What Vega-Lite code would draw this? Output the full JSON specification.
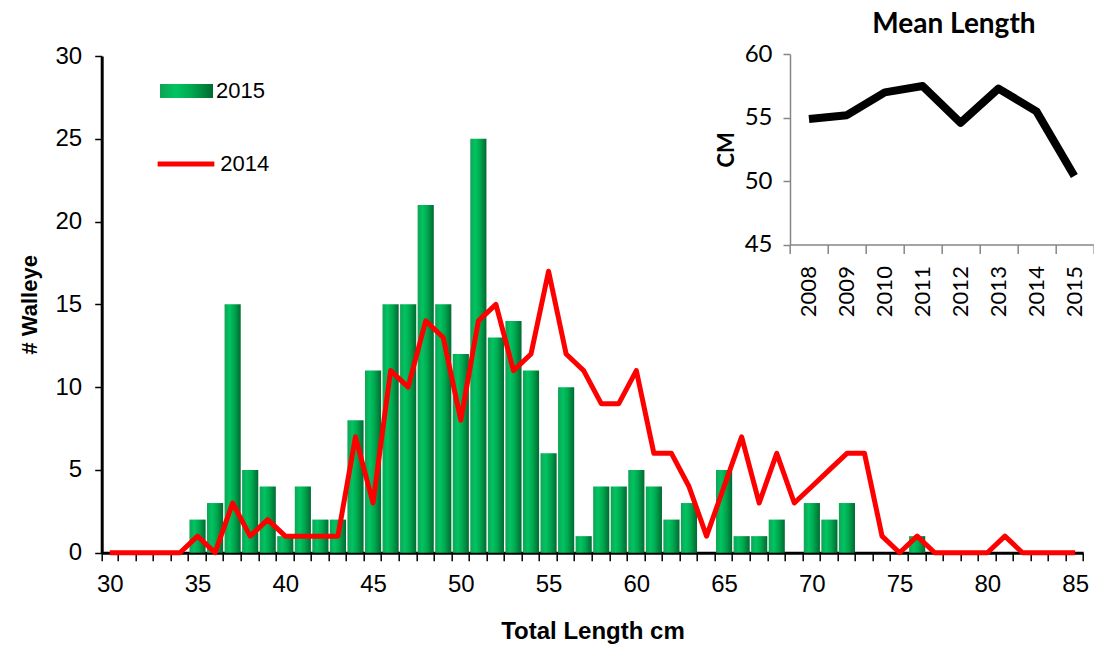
{
  "$schema": "https://vega.github.io/schema/vega-lite/v6.json",
  "autosize": "none",
  "width": 981.5,
  "height": 496.7,
  "padding": {"left": 101.7, "top": 56, "right": 10.8, "bottom": 97.3},
  "background": "white",
  "config": {"view": {"stroke": null}, "axis": {"grid": false}, "font": "Liberation Sans"},
  "title": {"text": "Mean Length", "anchor": "middle", "frame": "group", "dx": 361.5, "offset": -19, "baseline": "alphabetic", "font": "Lato", "fontSize": 28, "fontWeight": "bold", "color": "black"},
  "datasets": {
    "hist": [
      {"len": 30, "n2015": 0, "n2014": 0}, {"len": 31, "n2015": 0, "n2014": 0}, {"len": 32, "n2015": 0, "n2014": 0},
      {"len": 33, "n2015": 0, "n2014": 0}, {"len": 34, "n2015": 0, "n2014": 0}, {"len": 35, "n2015": 2, "n2014": 1},
      {"len": 36, "n2015": 3, "n2014": 0}, {"len": 37, "n2015": 15, "n2014": 3}, {"len": 38, "n2015": 5, "n2014": 1},
      {"len": 39, "n2015": 4, "n2014": 2}, {"len": 40, "n2015": 1, "n2014": 1}, {"len": 41, "n2015": 4, "n2014": 1},
      {"len": 42, "n2015": 2, "n2014": 1}, {"len": 43, "n2015": 2, "n2014": 1}, {"len": 44, "n2015": 8, "n2014": 7},
      {"len": 45, "n2015": 11, "n2014": 3}, {"len": 46, "n2015": 15, "n2014": 11}, {"len": 47, "n2015": 15, "n2014": 10},
      {"len": 48, "n2015": 21, "n2014": 14}, {"len": 49, "n2015": 15, "n2014": 13}, {"len": 50, "n2015": 12, "n2014": 8},
      {"len": 51, "n2015": 25, "n2014": 14}, {"len": 52, "n2015": 13, "n2014": 15}, {"len": 53, "n2015": 14, "n2014": 11},
      {"len": 54, "n2015": 11, "n2014": 12}, {"len": 55, "n2015": 6, "n2014": 17}, {"len": 56, "n2015": 10, "n2014": 12},
      {"len": 57, "n2015": 1, "n2014": 11}, {"len": 58, "n2015": 4, "n2014": 9}, {"len": 59, "n2015": 4, "n2014": 9},
      {"len": 60, "n2015": 5, "n2014": 11}, {"len": 61, "n2015": 4, "n2014": 6}, {"len": 62, "n2015": 2, "n2014": 6},
      {"len": 63, "n2015": 3, "n2014": 4}, {"len": 64, "n2015": 0, "n2014": 1}, {"len": 65, "n2015": 5, "n2014": 4},
      {"len": 66, "n2015": 1, "n2014": 7}, {"len": 67, "n2015": 1, "n2014": 3}, {"len": 68, "n2015": 2, "n2014": 6},
      {"len": 69, "n2015": 0, "n2014": 3}, {"len": 70, "n2015": 3, "n2014": 4}, {"len": 71, "n2015": 2, "n2014": 5},
      {"len": 72, "n2015": 3, "n2014": 6}, {"len": 73, "n2015": 0, "n2014": 6}, {"len": 74, "n2015": 0, "n2014": 1},
      {"len": 75, "n2015": 0, "n2014": 0}, {"len": 76, "n2015": 1, "n2014": 1}, {"len": 77, "n2015": 0, "n2014": 0},
      {"len": 78, "n2015": 0, "n2014": 0}, {"len": 79, "n2015": 0, "n2014": 0}, {"len": 80, "n2015": 0, "n2014": 0},
      {"len": 81, "n2015": 0, "n2014": 1}, {"len": 82, "n2015": 0, "n2014": 0}, {"len": 83, "n2015": 0, "n2014": 0},
      {"len": 84, "n2015": 0, "n2014": 0}, {"len": 85, "n2015": 0, "n2014": 0}
    ],
    "mean": [
      {"year": "2008", "cm": 54.9}, {"year": "2009", "cm": 55.2}, {"year": "2010", "cm": 57.0}, {"year": "2011", "cm": 57.5},
      {"year": "2012", "cm": 54.6}, {"year": "2013", "cm": 57.3}, {"year": "2014", "cm": 55.5}, {"year": "2015", "cm": 50.4}
    ]
  },
  "layer": [
    {
      "data": {"name": "hist"},
      "encoding": {
        "x": {
          "field": "len", "type": "ordinal",
          "scale": {"paddingInner": 0.08, "paddingOuter": 0},
          "axis": {
            "title": "Total Length cm", "titleFontSize": 24, "titleFontWeight": "bold", "titleColor": "black", "titlePadding": 23,
            "labelExpr": "datum.value % 5 === 0 ? datum.label : ''", "labelAngle": 0, "labelFontSize": 24, "labelColor": "black", "labelPadding": 12,
            "tickBand": "extent", "tickSize": 8, "tickWidth": 1.5, "tickColor": "black", "domainColor": "black", "domainWidth": 3
          }
        }
      },
      "layer": [
        {
          "mark": {"type": "bar", "color": {"gradient": "linear", "x1": 0, "y1": 0, "x2": 1, "y2": 0, "stops": [
            {"offset": 0, "color": "#12a255"}, {"offset": 0.3, "color": "#00c462"}, {"offset": 0.6, "color": "#00a84f"}, {"offset": 1, "color": "#006a30"}]}},
          "encoding": {
            "y": {"field": "n2015", "type": "quantitative", "scale": {"domain": [0, 30], "nice": false},
              "axis": {"title": "# Walleye", "titleFontSize": 22, "titleFontWeight": "bold", "titleColor": "black", "titlePadding": 14,
                "values": [0, 5, 10, 15, 20, 25, 30], "labelFontSize": 24, "labelColor": "black", "labelPadding": 13,
                "tickSize": 7, "tickWidth": 1.5, "tickColor": "black", "domainColor": "black", "domainWidth": 3}},
            "opacity": {"datum": "2015", "type": "ordinal", "scale": {"domain": ["2015"], "range": [1]},
              "legend": {"orient": "none", "legendX": 58.3, "legendY": 8.5, "title": null, "padding": 0,
                "symbolType": "M-1,-0.26H1V0.26H-1Z", "symbolSize": 2809, "symbolFillColor": "#00a650", "symbolStrokeWidth": 0,
                "labelFontSize": 22, "labelColor": "black", "labelOffset": 3}}
          }
        },
        {
          "mark": {"type": "line", "strokeWidth": 5, "strokeJoin": "round"},
          "encoding": {
            "y": {"field": "n2014", "type": "quantitative"},
            "color": {"datum": "2014", "type": "nominal", "scale": {"domain": ["2014"], "range": ["#ff0000"]},
              "legend": {"orient": "none", "legendX": 53.3, "legendY": 77, "title": null, "padding": 0,
                "symbolType": "stroke", "symbolSize": 3215, "symbolStrokeWidth": 5,
                "labelFontSize": 22, "labelColor": "black", "labelOffset": 3.3}}
          }
        }
      ]
    },
    {
      "data": {"name": "mean"},
      "mark": {"type": "line", "color": "black", "strokeWidth": 8, "strokeJoin": "round"},
      "encoding": {
        "x": {"field": "year", "type": "ordinal",
          "scale": {"type": "band", "range": [688.3, 991.6], "paddingInner": 0, "paddingOuter": 0},
          "axis": {"orient": "bottom", "offset": -308.1, "title": null, "labelAngle": -90, "labelFont": "Lato", "labelFontSize": 22, "labelColor": "black", "labelPadding": 12,
            "tickBand": "extent", "tickSize": 9, "tickColor": "#868686", "tickWidth": 1.5, "domainColor": "#868686", "domainWidth": 1.5}},
        "y": {"field": "cm", "type": "quantitative",
          "scale": {"domain": [45, 60], "nice": false, "zero": false, "range": [188.6, -1.7]},
          "axis": {"orient": "left", "offset": -688.3, "title": "CM", "titleFont": "Lato", "titleFontSize": 22, "titleFontWeight": "bold", "titleColor": "black", "titlePadding": 6,
            "values": [45, 50, 55, 60], "labelFont": "Lato", "labelFontSize": 24, "labelColor": "black", "labelPadding": 11,
            "tickSize": 7, "tickColor": "#868686", "tickWidth": 1.5, "domainColor": "#868686", "domainWidth": 1.5}}
      }
    }
  ],
  "resolve": {"scale": {"x": "independent", "y": "independent"}, "axis": {"x": "independent", "y": "independent"}}
}
